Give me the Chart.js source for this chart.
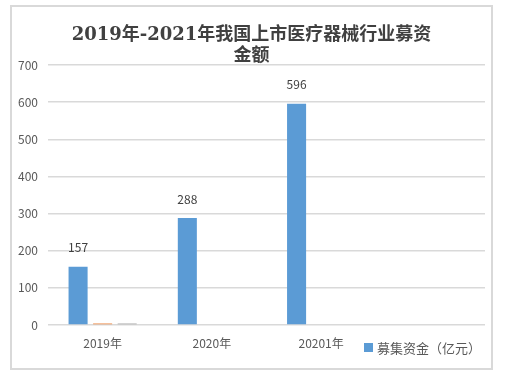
<!DOCTYPE html>
<html><head><meta charset="utf-8">
<script src="https://cdn.jsdelivr.net/npm/chart.js@4/dist/chart.umd.min.js"></script>
<style>html,body{margin:0;padding:0;background:#fff}#wrap{width:513px;height:377px;position:relative}</style>
</head><body><div id="wrap"><canvas id="c" width="513" height="377"></canvas></div>
<script>
const categories = ['2019年', '2020年', '20201年', ''];
const fundraising = [157, 288, 596, null];
const seriesOrange = [4, 0, 0, null];
const seriesGray = [4, 0, 0, null];
const seriesName = '募集资金（亿元）';
const titleLines = ['2019年-2021年我国上市医疗器械行业募资', '金额'];
const yMin = 0, yMax = 700, yStep = 100;

const FONT = '"Noto Sans CJK SC", "Noto Sans", sans-serif';
const BLUE = '#5B9BD5', ORANGE = '#ED7D31', GRAY = '#A5A5A5';

const framePlugin = {
  id: 'frame',
  beforeDraw(chart) {
    const ctx = chart.ctx;
    ctx.save();
    ctx.fillStyle = '#fff';
    ctx.fillRect(0, 0, chart.width, chart.height);
    ctx.strokeStyle = '#d9d9d9';
    ctx.lineWidth = 2;
    ctx.strokeRect(11, 6, 481, 363);
    ctx.restore();
  }
};

const labelPlugin = {
  id: 'valueLabels',
  afterDatasetsDraw(chart) {
    const ctx = chart.ctx;
    const meta = chart.getDatasetMeta(0);
    ctx.save();
    ctx.font = '12px ' + FONT;
    ctx.fillStyle = '#404040';
    ctx.textAlign = 'center';
    ctx.textBaseline = 'middle';
    meta.data.forEach((bar, i) => {
      const v = chart.data.datasets[0].data[i];
      if (v == null) return;
      ctx.fillText(String(v), bar.x, bar.y - 19);
    });
    ctx.restore();
  }
};

const legendPlugin = {
  id: 'customLegend',
  afterDraw(chart) {
    const ctx = chart.ctx;
    const ds = chart.data.datasets[0];
    ctx.save();
    ctx.fillStyle = ds.backgroundColor;
    ctx.fillRect(364, 343, 9, 9);
    ctx.font = '13px ' + FONT;
    ctx.fillStyle = '#595959';
    ctx.textAlign = 'left';
    ctx.textBaseline = 'middle';
    ctx.fillText(ds.label, 377, 348);
    ctx.restore();
  }
};

new Chart(document.getElementById('c'), {
  type: 'bar',
  data: {
    labels: categories,
    datasets: [
      { label: seriesName, data: fundraising, backgroundColor: BLUE },
      { label: '', data: seriesOrange, backgroundColor: ORANGE },
      { label: '', data: seriesGray, backgroundColor: GRAY }
    ]
  },
  options: {
    responsive: false,
    animation: false,
    layout: { padding: { left: 18, right: 28, top: 0, bottom: 27 } },
    datasets: { bar: { categoryPercentage: 0.674, barPercentage: 0.776 } },
    plugins: {
      legend: { display: false },
      tooltip: { enabled: false },
      title: {
        display: true,
        text: titleLines,
        color: '#404040',
        font: { family: '"DejaVu Serif", "Liberation Serif", "Noto Sans CJK SC", serif', size: 18, weight: 'bold', lineHeight: 1.17 },
        padding: { top: 25, bottom: -2 }
      }
    },
    scales: {
      x: {
        grid: { display: false, drawTicks: false, tickLength: 0 },
        border: { display: false },
        ticks: { color: '#595959', font: { family: FONT, size: 12 }, padding: 11, maxRotation: 0 },
        afterFit(s) { s.height = 25; }
      },
      y: {
        min: yMin, max: yMax,
        grid: { color: '#d9d9d9', lineWidth: 1.5, drawTicks: false },
        border: { display: false },
        ticks: { stepSize: yStep, color: '#595959', font: { family: FONT, size: 12 }, padding: 10 },
        afterFit(s) { s.width = 30; }
      }
    }
  },
  plugins: [framePlugin, labelPlugin, legendPlugin]
});
</script>
</body></html>
